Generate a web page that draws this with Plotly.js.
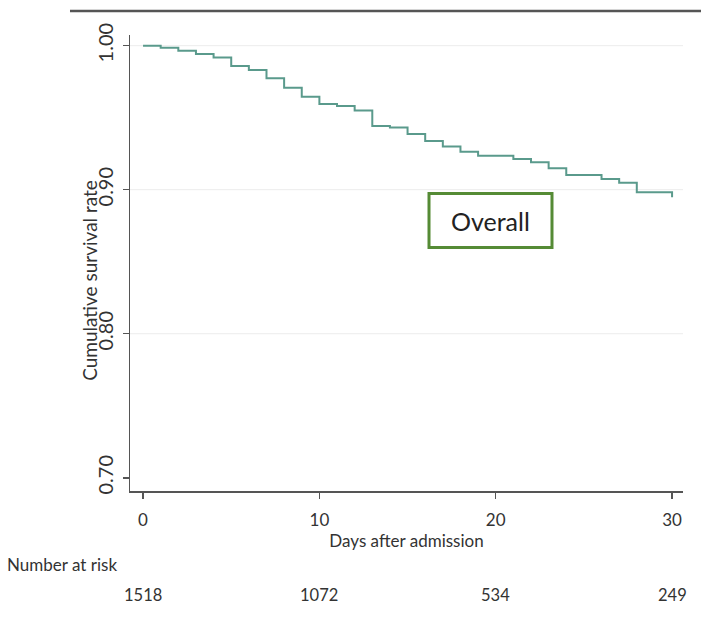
<!DOCTYPE html>
<html>
<head>
<meta charset="utf-8">
<script src="https://cdn.plot.ly/plotly-3.0.1.min.js"></script>
<style>html,body{margin:0;padding:0;background:#fff;}#chart{width:701px;height:620px;}</style>
</head>
<body>
<div id="chart"></div>
<script>
// Kaplan-Meier step data (day of step, survival level after step)
const days = [0, 1, 2, 3, 4, 5, 6, 7, 8, 9, 10, 11, 12, 13, 14, 15, 16, 17, 18, 19, 21, 22, 23, 24, 26, 27, 28, 30];
const survival = [1.0000, 0.9986, 0.9965, 0.9942, 0.9917, 0.9859, 0.9831, 0.9774, 0.9708, 0.9646,
                  0.9595, 0.9581, 0.9549, 0.9442, 0.9431, 0.9387, 0.9338, 0.9299, 0.9264, 0.9236,
                  0.9213, 0.9190, 0.9149, 0.9102, 0.9074, 0.9049, 0.8982, 0.8947];
const xTickVals = [0, 10, 20, 30];
const yTickVals = [0.70, 0.80, 0.90, 1.00];
const yTickText = ["0.70", "0.80", "0.90", "1.00"];
const riskDays = [0, 10, 20, 30];
const riskCounts = ["1518", "1072", "534", "249"];
const groupLabel = "Overall";
const xTitle = "Days after admission";
const yTitle = "Cumulative survival rate";
const riskTitle = "Number at risk";

const FONT = "Lato, 'Open Sans', sans-serif";
const TXT = "#333333";

const trace = {
  x: days, y: survival, type: "scatter", mode: "lines",
  line: {shape: "hv", color: "#5a9a8c", width: 2},
  hoverinfo: "skip", showlegend: false
};

const shapes = [];
// light gridlines at y ticks (except the bottom one)
yTickVals.filter(v => v > 0.75).forEach(v => shapes.push({
  type: "line", xref: "paper", yref: "y", x0: 0, x1: 1, y0: v, y1: v,
  line: {color: "#ececec", width: 1}, layer: "below"
}));
// top rule
shapes.push({type: "line", xref: "paper", yref: "paper", x0: -0.1085, x1: 1.04, y0: 1.0526, y1: 1.0526,
  line: {color: "#555555", width: 2.5}});
// label box
shapes.push({type: "rect", xref: "paper", yref: "paper", x0: 0.5407, x1: 0.7631, y0: 0.534, y1: 0.6524,
  line: {color: "#558b35", width: 3}, fillcolor: "#ffffff"});

const annotations = [
  {text: groupLabel, xref: "paper", yref: "paper", x: 0.652, y: 0.593, showarrow: false,
   font: {family: FONT, size: 25, color: "#222222"}, xanchor: "center", yanchor: "middle"},
  {text: yTitle, xref: "paper", yref: "paper", x: -0.0745, y: 0.4627, showarrow: false, textangle: -90,
   xanchor: "center", yanchor: "middle", font: {family: FONT, size: 19, color: TXT}},
  {text: riskTitle, xref: "paper", yref: "paper", x: -0.226, y: -0.162, showarrow: false,
   xanchor: "left", yanchor: "middle", font: {family: FONT, size: 17, color: TXT}}
];
riskDays.forEach((d, i) => annotations.push({
  text: riskCounts[i], xref: "x", yref: "paper", x: d, y: -0.228, showarrow: false,
  xanchor: "center", yanchor: "middle", font: {family: FONT, size: 16.5, color: TXT}
}));

const layout = {
  width: 701, height: 620,
  margin: {l: 130, r: 18, t: 35, b: 129},
  paper_bgcolor: "#ffffff", plot_bgcolor: "#ffffff",
  font: {family: FONT, color: TXT, size: 14},
  xaxis: {
    range: [-0.74, 30.62], tickvals: xTickVals, ticktext: xTickVals.map(String),
    showgrid: false, zeroline: false, showline: true, linecolor: "#555555", linewidth: 1.5,
    ticks: "outside", ticklen: 6, tickwidth: 1.5, tickcolor: "#555555",
    ticklabelstandoff: 7,
    tickfont: {family: FONT, size: 17, color: TXT},
    title: {text: xTitle, font: {family: FONT, size: 17, color: TXT}, standoff: 6}
  },
  yaxis: {
    range: [0.6908, 1.0074], tickvals: yTickVals, ticktext: yTickText, tickangle: -90,
    showgrid: false, zeroline: false, showline: true, linecolor: "#555555", linewidth: 1.5,
    ticks: "outside", ticklen: 6, tickwidth: 1.5, tickcolor: "#555555",
    ticklabelstandoff: 2,
    tickfont: {family: FONT, size: 20, color: TXT}
  },
  shapes: shapes,
  annotations: annotations
};

Plotly.newPlot("chart", [trace], layout, {displayModeBar: false, staticPlot: true});
</script>
</body>
</html>
